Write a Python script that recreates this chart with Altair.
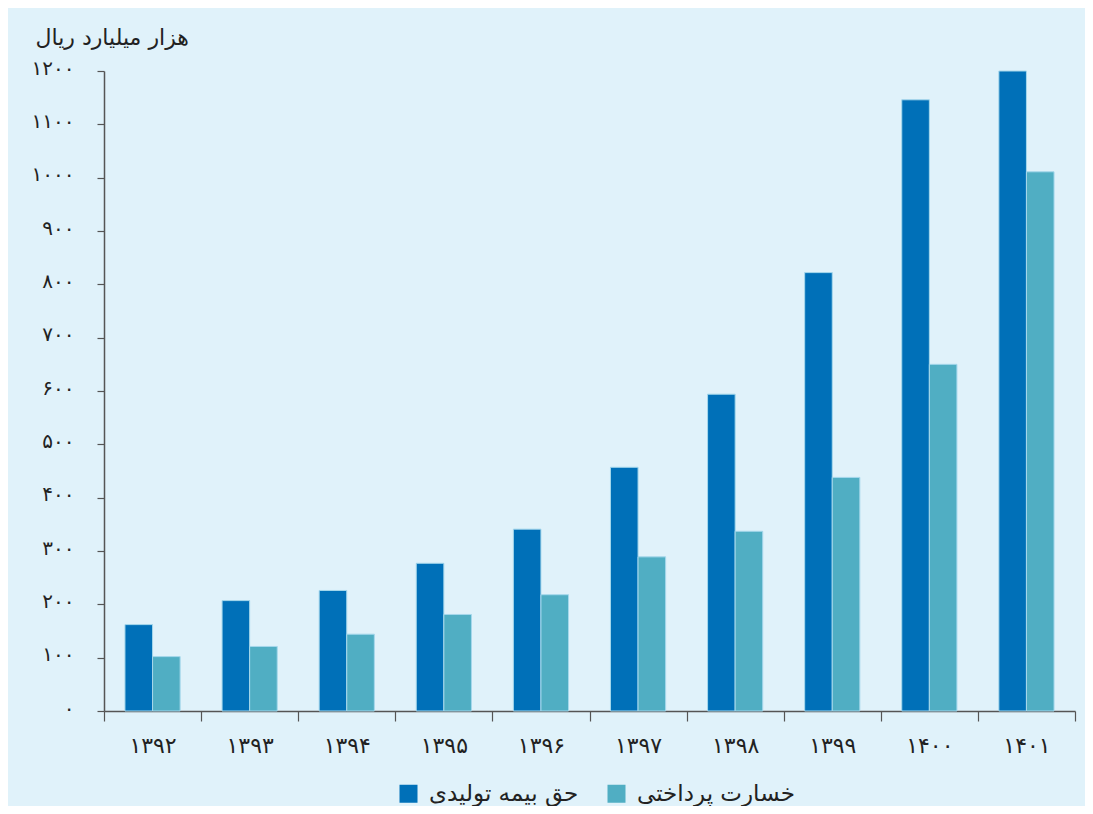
import altair as alt
import pandas as pd

years = ["۱۳۹۲", "۱۳۹۳", "۱۳۹۴", "۱۳۹۵", "۱۳۹۶", "۱۳۹۷", "۱۳۹۸", "۱۳۹۹", "۱۴۰۰", "۱۴۰۱"]
series_names = ["حق بیمه تولیدی", "خسارت پرداختی"]
premium = [162, 207, 226, 277, 341, 457, 594, 822, 1146, 1200]
claims = [102, 121, 144, 181, 218, 289, 337, 438, 650, 1011]
y_ticks = [0, 100, 200, 300, 400, 500, 600, 700, 800, 900, 1000, 1100, 1200]
y_tick_labels = ["۰", "۱۰۰", "۲۰۰", "۳۰۰", "۴۰۰", "۵۰۰", "۶۰۰", "۷۰۰", "۸۰۰", "۹۰۰", "۱۰۰۰", "۱۱۰۰", "۱۲۰۰"]
colors = ["#0070b8", "#50aec3"]
unit_title = "هزار میلیارد ریال"

rows = []
for i, y in enumerate(years):
    rows.append({"year": y, "series": series_names[0], "value": premium[i]})
    rows.append({"year": y, "series": series_names[1], "value": claims[i]})
df = pd.DataFrame(rows)

label_map = "{" + ",".join(f"'{v}':'{l}'" for v, l in zip(y_ticks, y_tick_labels)) + "}"

FONT = "DejaVu Sans"
BG = "#e0f2fa"

chart = alt.Chart(df).mark_bar(stroke="#a6d8ec", strokeWidth=1).encode(
    x=alt.X("year:N", sort=years,
            scale=alt.Scale(paddingInner=0, paddingOuter=0),
            axis=alt.Axis(title=None, labelAngle=0, tickBand="extent",
                          tickSize=10, labelPadding=14, labelFontSize=22,
                          labelColor="#222222", labelFont=FONT,
                          domainColor="#555555", tickColor="#555555",
                          domainWidth=1.5, tickWidth=1.2, grid=False)),
    xOffset=alt.XOffset("series:N", sort=series_names,
                        scale=alt.Scale(paddingOuter=0.76, paddingInner=0)),
    y=alt.Y("value:Q",
            scale=alt.Scale(domain=[0, 1200], nice=False),
            axis=alt.Axis(values=y_ticks, labelExpr=f"{label_map}[datum.value]",
                          title=unit_title, titleAngle=0, titleX=-69, titleY=-34,
                          titleAlign="left", titleBaseline="middle",
                          titleFontSize=22, titleFontWeight="normal",
                          titleColor="#222222", titleFont=FONT,
                          tickSize=7, labelPadding=23, labelFontSize=20,
                          labelColor="#222222", labelFont=FONT, labelBaseline="middle",
                          labelOffset=-3,
                          domainColor="#555555", tickColor="#555555",
                          domainWidth=1.5, tickWidth=1.2, grid=False)),
    color=alt.Color("series:N", sort=series_names,
                    scale=alt.Scale(domain=series_names, range=colors),
                    legend=alt.Legend(title=None, orient="none", direction="horizontal",
                                      legendX=293, legendY=711,
                                      symbolType="square", symbolSize=324,
                                      symbolStrokeWidth=0, symbolOpacity=1,
                                      labelFontSize=23, labelFont=FONT,
                                      labelColor="#222222", labelOffset=9,
                                      labelBaseline="middle",
                                      labelLimit=400, columnPadding=26)),
).properties(
    width=971,
    height=640,
    autosize=alt.AutoSizeParams(type="none"),
    padding={"left": 96, "top": 63, "right": 10, "bottom": 95},
).configure(
    background=BG,
).configure_view(
    stroke=None,
    fill=BG,
)

chart.save("out.html", embed_options={"renderer": "svg", "actions": False})
